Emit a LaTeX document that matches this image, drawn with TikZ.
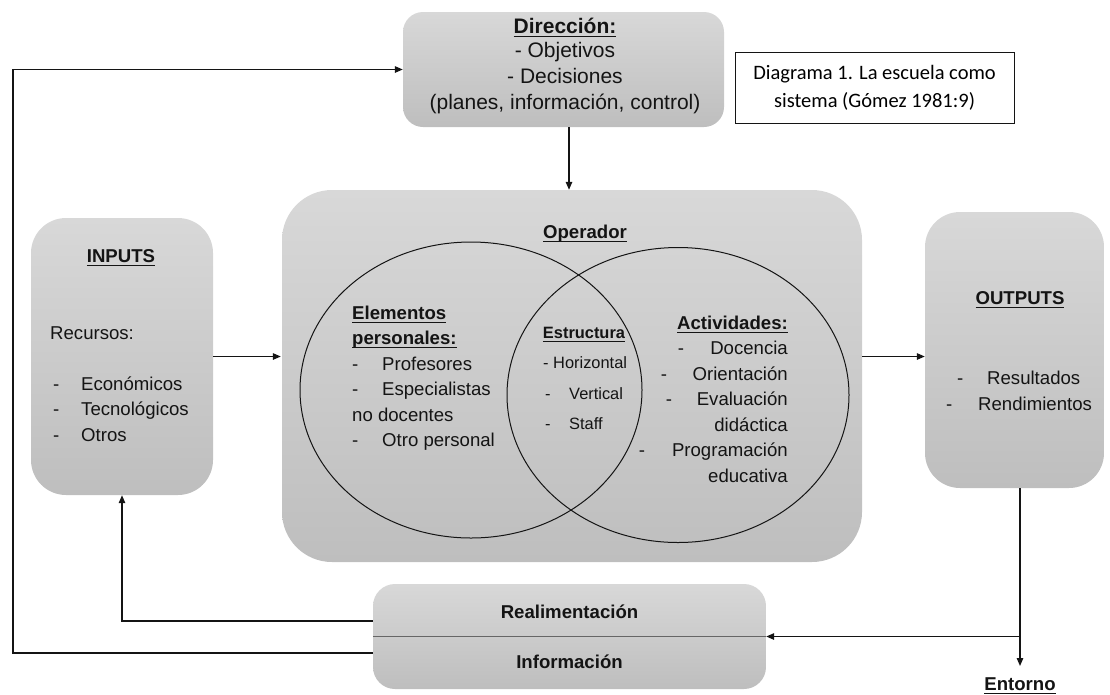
\documentclass[tikz,border=0pt]{standalone}
\usepackage{fontspec}
\setmainfont{Liberation Sans}
\newfontfamily\calibri{Carlito}
\usepackage{tikz}
\usetikzlibrary{positioning}
\usetikzlibrary{shapes.geometric}
\usetikzlibrary{arrows.meta}
\definecolor{grisclaro}{RGB}{216,216,216}
\definecolor{grisoscuro}{RGB}{190,190,190}
\definecolor{linea}{RGB}{20,20,20}
\tikzset{caja/.style={rectangle,rounded corners=#1,top color=grisclaro,bottom color=grisoscuro,draw=none,inner sep=0pt},caja/.default=20pt}
\tikzset{texto/.style={inner sep=0pt,text=linea,font=\fontsize{18.6}{25.5}\selectfont}}
\tikzset{chico/.style={texto,font=\fontsize{16.4}{20}\selectfont}}
\tikzset{grande/.style={texto,font=\fontsize{21}{25.5}\selectfont}}
\tikzset{flujo/.style={draw=linea,line width=1.3pt,-{Triangle[length=8pt,width=6.5pt]}}}
\tikzset{circulo/.style={ellipse,draw=linea,line width=1pt,inner sep=0pt}}
\newcommand{\guion}[1][28pt]{\makebox[#1][l]{-}}
\newcommand{\subrayar}[1]{\leavevmode\setbox0=\hbox{#1}\rlap{\rule[-3.9pt]{\wd0}{1.4pt}}\box0}

\begin{document}
\begin{tikzpicture}[x=1pt,y=-1pt]
  \useasboundingbox (0,0) rectangle (1110,694);

  % cajas
  \node [caja=20pt,minimum width=321pt,minimum height=115pt] (direccion) at (563.5,69.5) {};
  \node [rectangle,draw=linea,line width=0.8pt,fill=white,minimum width=279pt,minimum height=71pt,
         align=center,font=\calibri\fontsize{20.5}{28}\selectfont] (leyenda) at (874.5,87.5)
        {Diagrama 1. La escuela como\\sistema (Gómez 1981:9)};
  \node [caja=50pt,minimum width=580pt,minimum height=372pt] (operador) at (572,376) {};
  \node [caja=35pt,minimum width=182pt,minimum height=277pt] (inputs) at (122,356.5) {};
  \node [caja=35pt,minimum width=179pt,minimum height=276pt] (outputs) at (1014.5,350) {};
  \node [caja=22pt,minimum width=393pt,minimum height=105pt] (realim) at (569.5,636.5) {};
  \draw [black!60,line width=1.2pt] (realim.west) -- (realim.east);

  \node [circulo,minimum width=342pt,minimum height=296pt] (personal) at (471,390) {};
  \node [circulo,minimum width=342pt,minimum height=295pt] (actividades) at (678,395) {};

  % Direccion
  \node [grande,anchor=base] (tdireccion) at (565,33) {\textbf{\subrayar{Dirección:}}};
  \node [grande,anchor=base] (objetivos) at (565,57) {- Objetivos};
  \node [grande,anchor=base] (decisiones) at (565,83) {- Decisiones};
  \node [grande,anchor=base] (planes) at (565,109) {(planes, información, control)};

  % INPUTS
  \node [texto,anchor=base] (tinputs) at (121,262) {\textbf{\subrayar{INPUTS}}};
  \node [texto,anchor=base west] (recursos) at (50,339) {Recursos:};
  \foreach \recurso [count=\i] in {Económicos,Tecnológicos,Otros}
    \node [texto,anchor=base west] (rec\i) at (53,{364.5+25.5*\i}) {\guion\recurso};

  % Operador
  \node [texto,anchor=base] (toperador) at (585,238.5) {\textbf{\subrayar{Operador}}};
  \foreach \linea [count=\i] in {\textbf{\subrayar{Elementos}},\textbf{\subrayar{personales:}},
      \guion[30pt]Profesores,\guion[30pt]Especialistas,no docentes,\guion[30pt]Otro personal}
    \node [texto,anchor=base west] (pers\i) at (352,{293.5+25.5*\i}) {\linea};

  \node [chico,anchor=base] (testructura) at (584,338) {\textbf{\subrayar{Estructura}}};
  \node [chico,anchor=base west] (horizontal) at (543,368) {- Horizontal};
  \node [chico,anchor=base west] (vertical) at (545,399) {\guion[24pt]Vertical};
  \node [chico,anchor=base west] (staff) at (545,429) {\guion[24pt]Staff};

  \foreach \linea [count=\i] in {\textbf{\subrayar{Actividades:}},Docencia,Orientación,
      Evaluación,didáctica,Programación,educativa}
    \node [texto,anchor=base east] (act\i) at (788,{303.5+25.5*\i}) {\linea};
  \foreach \x/\y [count=\i] in {681/354.5,664/380,669/405.5,642/456.5}
    \node [texto,anchor=base] (guion\i) at (\x,\y) {-};

  % OUTPUTS
  \node [texto,anchor=base] (toutputs) at (1020,304.5) {\textbf{\subrayar{OUTPUTS}}};
  \node [texto,anchor=base west] (resultados) at (957,384) {\guion[30pt]Resultados};
  \node [texto,anchor=base west] (rendimientos) at (946,410) {\guion[32pt]Rendimientos};

  % realimentacion
  \node [texto,anchor=base] (trealim) at (569.5,618.5) {\textbf{Realimentación}};
  \node [texto,anchor=base] (tinfo) at (569.5,668.5) {\textbf{Información}};
  \node [texto,anchor=base] (entorno) at (1020,690) {\textbf{\subrayar{Entorno}}};

  % flechas
  \coordinate (bajada) at ([xshift=5.5pt]direccion.south);
  \coordinate (sal1) at ([yshift=15.5pt]realim.west);
  \coordinate (sal2) at ([yshift=-16.5pt]realim.west);
  \coordinate (esquina) at (13,653);
  \draw [flujo] (bajada) -- (bajada |- operador.north);
  \draw [flujo,shorten >=1pt] (inputs.east) -- (inputs.east -| operador.west);
  \draw [flujo] (operador.east |- inputs.east) -- (outputs.west |- inputs.east);
  \draw [flujo,shorten >=11pt] (entorno.north |- outputs.south) -- (entorno.north);
  \draw [flujo] (entorno.north |- realim.east) -- (realim.east);
  \draw [flujo] (sal1) -| (inputs.south);
  \draw [flujo] (sal2) -- (esquina) |- (direccion.west);
\end{tikzpicture}
\end{document}
